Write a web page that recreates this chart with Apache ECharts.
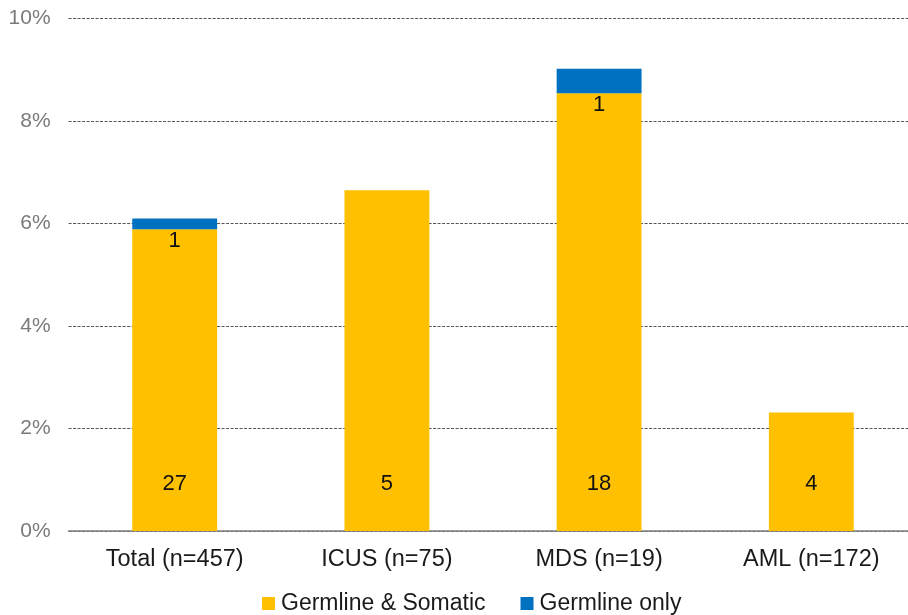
<!DOCTYPE html>
<html>
<head>
<meta charset="utf-8">
<script src="https://cdn.jsdelivr.net/npm/echarts@6/dist/echarts.min.js"></script>
<style>
  html, body { margin: 0; padding: 0; background: #fff; overflow: hidden; }
  /* the plot area runs a little past the right edge of the window */
  #chart { width: 918px; height: 615px; }
</style>
</head>
<body>
<div id="chart"></div>
<script>
// Cohorts on the x axis
const categories = ['Total (n=457)', 'ICUS (n=75)', 'MDS (n=19)', 'AML (n=172)'];
// Share of patients (%) per cohort
const germlineSomatic = [5.89, 6.65, 8.54, 2.31];
const germlineOnly = [0.21, 0, 0.48, 0];
// Patient counts printed on the bars
const countsGermlineSomatic = [27, 5, 18, 4];
const countsGermlineOnly = [1, null, 1, null];
// Percent ticks on the value axis
const yTicks = [0, 2, 4, 6, 8, 10];

const FONT = '"Liberation Sans", Arial, sans-serif';

const chart = echarts.init(document.getElementById('chart'), null, { renderer: 'canvas' });

chart.setOption({
  animation: false,
  textStyle: { fontFamily: FONT },
  grid: { left: 68.6, width: 848.8, top: 18.5, height: 512.5, containLabel: false },
  legend: {
    top: 592,
    left: 262,
    padding: 0,
    itemWidth: 13,
    itemHeight: 13,
    itemGap: 35,
    icon: 'rect',
    textStyle: { fontFamily: FONT, fontSize: 23, color: '#1a1a1a', padding: [0, 0, 0, 1] },
    data: ['Germline & Somatic', 'Germline only']
  },
  xAxis: {
    type: 'category',
    data: categories,
    axisTick: { show: false },
    axisLine: { lineStyle: { color: '#7f7f7f', width: 1.5 } },
    axisLabel: { fontFamily: FONT, fontSize: 23.5, color: '#1a1a1a', margin: 17 }
  },
  yAxis: {
    type: 'value',
    min: yTicks[0],
    max: yTicks[yTicks.length - 1],
    interval: 2,
    axisLine: { show: false },
    axisTick: { show: false },
    axisLabel: {
      fontFamily: FONT, fontSize: 21, color: '#7a7a7a', margin: 18,
      formatter: v => v + '%'
    },
    splitLine: { lineStyle: { color: '#555', type: [3, 1.5], width: 1 } }
  },
  series: [
    {
      name: 'Germline & Somatic',
      type: 'bar',
      stack: 'all',
      barWidth: '40%',
      itemStyle: { color: '#FFC000' },
      data: germlineSomatic,
      label: {
        show: true,
        position: 'insideBottom',
        distance: 36,
        fontFamily: FONT,
        fontSize: 22,
        color: '#111',
        formatter: p => String(countsGermlineSomatic[p.dataIndex])
      }
    },
    {
      name: 'Germline only',
      type: 'bar',
      stack: 'all',
      barWidth: '40%',
      itemStyle: { color: '#0070C0' },
      data: germlineOnly.map((v, i) => ({
        value: v,
        label: { show: countsGermlineOnly[i] !== null }
      })),
      label: {
        position: 'bottom',
        distance: 1,
        fontFamily: FONT,
        fontSize: 22,
        color: '#111',
        formatter: p => String(countsGermlineOnly[p.dataIndex])
      }
    }
  ]
});
</script>
</body>
</html>
